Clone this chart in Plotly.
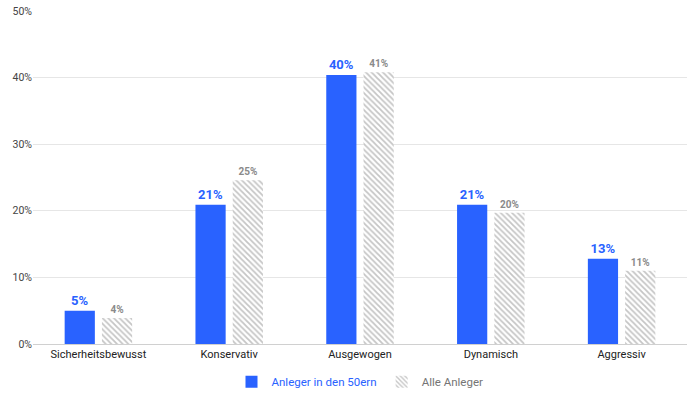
import plotly.graph_objects as go

categories = ["Sicherheitsbewusst", "Konservativ", "Ausgewogen", "Dynamisch", "Aggressiv"]
anleger_50er = [5.0, 20.9, 40.4, 20.9, 12.8]
alle_anleger = [3.9, 24.6, 40.8, 19.7, 11.0]
labels_50er = ["5%", "21%", "40%", "21%", "13%"]
labels_alle = ["4%", "25%", "41%", "20%", "11%"]
y_ticks = [0, 10, 20, 30, 40, 50]
y_tick_labels = ["0%", "10%", "20%", "30%", "40%", "50%"]

BLUE = "#2962FF"
GRAY = "#8a8a8a"

fig = go.Figure()
fig.add_trace(go.Bar(
    x=categories, y=anleger_50er, name="<span style='color:#2962FF'>Anleger in den 50ern</span>",
    marker=dict(color=BLUE, line=dict(width=0)),
    text=labels_50er, textposition="outside", cliponaxis=False,
    textfont=dict(family="Roboto", size=13, color=BLUE, weight="bold"),
))
fig.add_trace(go.Bar(
    x=categories, y=alle_anleger, name="<span style='color:#757575'>Alle Anleger</span>",
    marker=dict(color="white", line=dict(width=0),
                pattern=dict(shape="\\", fgcolor="#8c8c8c", bgcolor="white", size=4, solidity=0.45)),
    text=labels_alle, textposition="outside", cliponaxis=False,
    textfont=dict(family="Roboto", size=10, color=GRAY, weight="bold"),
))

fig.update_layout(
    width=698, height=394,
    margin=dict(l=33, r=11, t=11, b=50, autoexpand=False),
    paper_bgcolor="white", plot_bgcolor="white",
    barmode="group", bargap=0.43, bargroupgap=0.19,
    font=dict(family="Roboto", size=11, color="#333"),
    showlegend=True,
    legend=dict(orientation="h", x=0.5, xanchor="center", y=-0.07, yanchor="top",
                font=dict(family="Roboto", size=11.5), itemwidth=30, tracegroupgap=0),
    xaxis=dict(showgrid=False, tickfont=dict(size=11, color="#222"), ticks="",
               showline=True, linecolor="#d0d0d0", linewidth=1),
    yaxis=dict(range=[0, 50], tickvals=y_ticks, ticktext=y_tick_labels,
               gridcolor="#e6e6e6", gridwidth=1, zeroline=False,
               tickfont=dict(size=10.5, color="#444"), ticks="", ticklen=0),
)

fig.write_html("out.html")
